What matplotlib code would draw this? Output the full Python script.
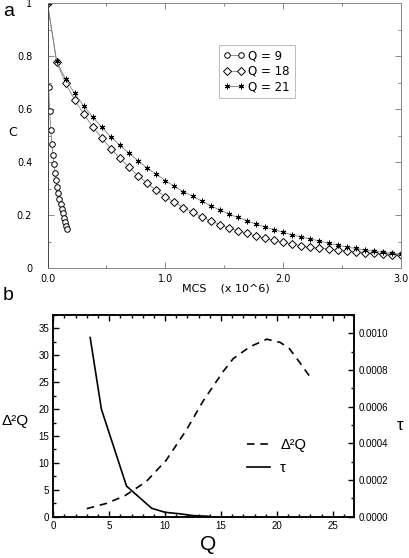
import numpy as np
import matplotlib
matplotlib.use('Agg')
import matplotlib.pyplot as plt
from matplotlib.ticker import MultipleLocator

#panel a data (MCS in units of 10^6)
mcs_9 = np.arange(19) * 0.0092
c_9 = [1.0, 0.686, 0.592, 0.521, 0.470, 0.428, 0.392, 0.360, 0.332, 0.306,
       0.283, 0.262, 0.242, 0.224, 0.207, 0.191, 0.176, 0.161, 0.147]
mcs_long = np.linspace(0, 3.0, 40)
c_18 = [1.0, 0.780, 0.698, 0.635, 0.582, 0.533, 0.491, 0.451, 0.415, 0.381,
        0.349, 0.321, 0.294, 0.270, 0.249, 0.229, 0.211, 0.195, 0.178, 0.165,
        0.152, 0.142, 0.132, 0.122, 0.113, 0.106, 0.098, 0.092, 0.085, 0.079,
        0.076, 0.073, 0.068, 0.065, 0.061, 0.059, 0.057, 0.054, 0.052, 0.051]
c_21 = [1.0, 0.782, 0.713, 0.660, 0.612, 0.570, 0.532, 0.495, 0.464, 0.434,
        0.405, 0.377, 0.355, 0.331, 0.309, 0.289, 0.272, 0.254, 0.236, 0.220,
        0.205, 0.192, 0.180, 0.167, 0.156, 0.146, 0.136, 0.126, 0.118, 0.111,
        0.103, 0.094, 0.088, 0.080, 0.075, 0.069, 0.065, 0.061, 0.057, 0.053]

#panel b data
q_d2 = [3.0, 4.8, 6.4, 8.3, 10.1, 11.9, 13.4, 15.2, 16.1, 17.6, 19.1, 20.3, 21.1, 22.0, 23.0]
d2q = [1.5, 2.5, 3.9, 6.5, 10.5, 16.1, 21.5, 27.0, 29.4, 31.6, 33.0, 32.4, 31.3, 28.8, 25.9]
q_tau = [3.3, 4.3, 6.55, 8.8, 10.0, 11.3, 12.5, 14.0]
tau = [0.000977, 0.000587, 0.000167, 0.000046, 0.000024, 0.000016, 0.000006, 0.000002]

fig = plt.figure(figsize=(4.10, 5.58), dpi=100)

########################## panel a
ax1 = fig.add_axes([0.1159, 0.5192, 0.8622, 0.4749])
line_kw = dict(color='#808080', linewidth=0.6, markeredgecolor='black', markeredgewidth=0.7)
ax1.plot(mcs_9, c_9, marker='o', markersize=4, markerfacecolor='white', label='Q = 9', **line_kw)
ax1.plot(mcs_long, c_18, marker='D', markersize=3.6, markerfacecolor='white', label='Q = 18', **line_kw)
ax1.plot(mcs_long, c_21, marker=(6, 2, 0), markersize=4, label='Q = 21', **line_kw)
ax1.set_xlim(0, 3.0)
ax1.set_ylim(0, 1.0)
ax1.set_xticks([0, 1, 2, 3])
ax1.set_xticklabels(['0.0', '1.0', '2.0', '3.0'])
ax1.set_yticks([0, 0.2, 0.4, 0.6, 0.8, 1.0])
ax1.set_yticklabels(['0', '0.2', '0.4', '0.6', '0.8', '1'])
ax1.xaxis.set_minor_locator(MultipleLocator(0.5))
ax1.yaxis.set_minor_locator(MultipleLocator(0.1))
ax1.tick_params(which='both', direction='in', top=True, right=True, color='#777777', width=0.6)
ax1.tick_params(which='major', length=4)
ax1.tick_params(which='minor', length=2)
ax1.tick_params(axis='y', labelsize=7, pad=11)
ax1.tick_params(axis='x', labelsize=7, pad=4)
for s in ax1.spines.values():
    s.set_color('#888888')
    s.set_linewidth(0.7)
ax1.spines['left'].set_color('#444444')
leg = ax1.legend(loc='upper left', bbox_to_anchor=(0.485, 0.843), borderaxespad=0,
                 fontsize=8.5, numpoints=2, handlelength=1.8, handletextpad=0.3,
                 labelspacing=0.2, fancybox=False, edgecolor='#aaaaaa', borderpad=0.4)
leg.get_frame().set_linewidth(0.7)
fig.text(8 / 410, 1 - 132 / 558, 'C', fontsize=9, va='center')
fig.text(182 / 410, 1 - 289 / 558, 'MCS    (x 10^6)', fontsize=8, va='center')
fig.text(3 / 410, 1 - 11 / 558, 'a', fontsize=14, va='center', family='Liberation Sans')

########################## panel b
ax2 = fig.add_axes([0.130, 0.074, 0.7334, 0.3615])
ax3 = ax2.twinx()
l1, = ax2.plot(q_d2, d2q, color='black', linewidth=1.2, linestyle=(0, (4.5, 3.5)), label='Δ²Q')
l2, = ax3.plot(q_tau, tau, color='black', linewidth=1.2, label='τ')
ax2.set_xlim(0, 26.9)
ax2.set_ylim(0, 37.5)
ax3.set_ylim(0, 0.0011)
ax2.set_xticks([0, 5, 10, 15, 20, 25])
ax2.set_yticks([0, 5, 10, 15, 20, 25, 30, 35])
ax3.set_yticks([0, 0.0002, 0.0004, 0.0006, 0.0008, 0.0010])
ax3.set_yticklabels(['0.0000', '0.0002', '0.0004', '0.0006', '0.0008', '0.0010'])
ax2.xaxis.set_minor_locator(MultipleLocator(1))
ax2.yaxis.set_minor_locator(MultipleLocator(2.5))
ax3.yaxis.set_minor_locator(MultipleLocator(0.0001))
ax2.tick_params(which='both', direction='in', top=True, width=1.0, labelsize=7,
                labelfontfamily='Liberation Sans', pad=3)
ax3.tick_params(which='both', direction='in', width=1.0, labelsize=7,
                labelfontfamily='Liberation Sans', pad=3)
for a in (ax2, ax3):
    a.tick_params(which='major', length=4)
    a.tick_params(which='minor', length=2.5)
    for s in a.spines.values():
        s.set_linewidth(1.1)
ax3.legend(handles=[l1, l2], loc='center left', bbox_to_anchor=(0.643, 0.298),
           frameon=False, handlelength=1.6, handletextpad=0.7,
           labelspacing=0.6, borderpad=0, borderaxespad=0,
           prop={'family': 'Liberation Sans', 'size': 10.5})
fig.text(2 / 410, 1 - 421 / 558, 'Δ²Q', fontsize=11, va='center', family='Liberation Sans')
fig.text(397 / 410, 1 - 425 / 558, 'τ', fontsize=12, va='center', family='Liberation Sans')
fig.text(200 / 410, 1 - 545 / 558, 'Q', fontsize=15, va='center', family='Liberation Sans')
fig.text(3 / 410, 1 - 296 / 558, 'b', fontsize=14, va='center', family='Liberation Sans')

plt.savefig('out.png', dpi=100)
